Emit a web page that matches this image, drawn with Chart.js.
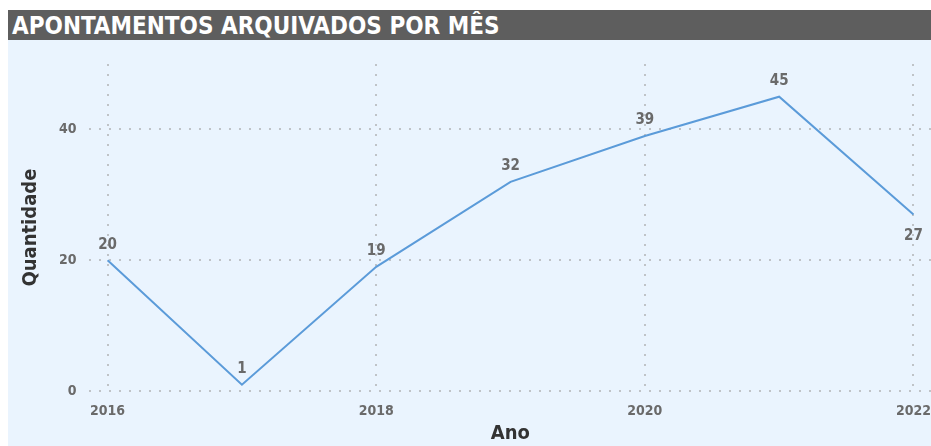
<!DOCTYPE html>
<html>
<head>
<meta charset="utf-8">
<script src="https://cdn.jsdelivr.net/npm/chart.js@4"></script>
<style>
  body { margin: 0; background: #fff; width: 931px; height: 446px; overflow: hidden; position: relative; }
  #titulo {
    position: absolute; left: 8px; top: 10px; width: 923px; height: 30px;
    background: #5e5e5e; color: #fff;
    font-family: "DejaVu Sans Condensed", "DejaVu Sans", sans-serif;
    font-size: 24px; font-weight: bold; line-height: 32px; padding-left: 4px; box-sizing: border-box;
    white-space: nowrap;
  }
  /* a tela passa um pouco da janela: o rótulo 2022 fica cortado como no original */
  #wrap { position: absolute; left: 8px; top: 40px; width: 935px; height: 406px; background: #eaf4fe; }
</style>
</head>
<body>
<div id="titulo">APONTAMENTOS ARQUIVADOS POR MÊS</div>
<div id="wrap"><canvas id="grafico"></canvas></div>
<script>
// dados
const anos = [2016, 2017, 2018, 2019, 2020, 2021, 2022];
const quantidades = [20, 1, 19, 32, 39, 45, 27];
const ticksX = [2016, 2018, 2020, 2022];
const ticksY = [0, 20, 40];

const fonte = '"DejaVu Sans Condensed", "DejaVu Sans", sans-serif';

// rótulos de dados acima dos pontos (o último fica abaixo)
const rotulos = {
    id: 'rotulos',
    afterDatasetsDraw(chart) {
        const ctx = chart.ctx;
        const meta = chart.getDatasetMeta(0);
        ctx.save();
        ctx.font = 'bold 15px ' + fonte;
        ctx.fillStyle = '#6a6a6a';
        ctx.textAlign = 'center';
        meta.data.forEach((pt, i) => {
            const ultimo = i === meta.data.length - 1;
            ctx.textBaseline = ultimo ? 'top' : 'bottom';
            const y = ultimo ? pt.y + 14 : pt.y - 8;
            ctx.fillText(String(quantidades[i]), pt.x, y);
        });
        ctx.restore();
    }
};

const ctx = document.getElementById('grafico').getContext('2d');
new Chart(ctx, {
    type: 'line',
    data: {
        datasets: [{
            data: anos.map((a, i) => ({ x: a, y: quantidades[i] })),
            borderColor: '#5b9bd9',
            borderWidth: 2,
            pointRadius: 0,
            tension: 0
        }]
    },
    options: {
        responsive: true,
        maintainAspectRatio: false,
        animation: false,
        layout: { autoPadding: false, padding: { left: 11, right: 0, top: 24, bottom: 0 } },
        plugins: { legend: { display: false }, tooltip: { enabled: false } },
        scales: {
            x: {
                type: 'linear',
                min: 2015.858,
                max: 2022.14,
                afterBuildTicks: axis => { axis.ticks = ticksX.map(v => ({ value: v })); },
                grid: { color: '#bfc3c7', lineWidth: 2, drawTicks: false },
                border: { display: false, dash: [2, 8] },
                ticks: { color: '#6a6a6a', font: { family: fonte, size: 14, weight: 'bold' }, padding: 12, maxRotation: 0, callback: v => String(v) },
                title: { display: true, text: 'Ano', color: '#333', font: { family: fonte, size: 20, weight: 'bold' }, padding: { top: -10, bottom: 0 } }
            },
            y: {
                min: 0,
                max: 50,
                afterBuildTicks: axis => { axis.ticks = ticksY.map(v => ({ value: v })); },
                grid: { color: '#bfc3c7', lineWidth: 2, drawTicks: false },
                border: { display: false, dash: [2, 8] },
                ticks: { color: '#6a6a6a', font: { family: fonte, size: 14, weight: 'bold' }, padding: 12 },
                title: { display: true, text: 'Quantidade', color: '#333', font: { family: fonte, size: 20, weight: 'bold' }, padding: { top: 0, bottom: 4 } }
            }
        }
    },
    plugins: [rotulos]
});
</script>
</body>
</html>
